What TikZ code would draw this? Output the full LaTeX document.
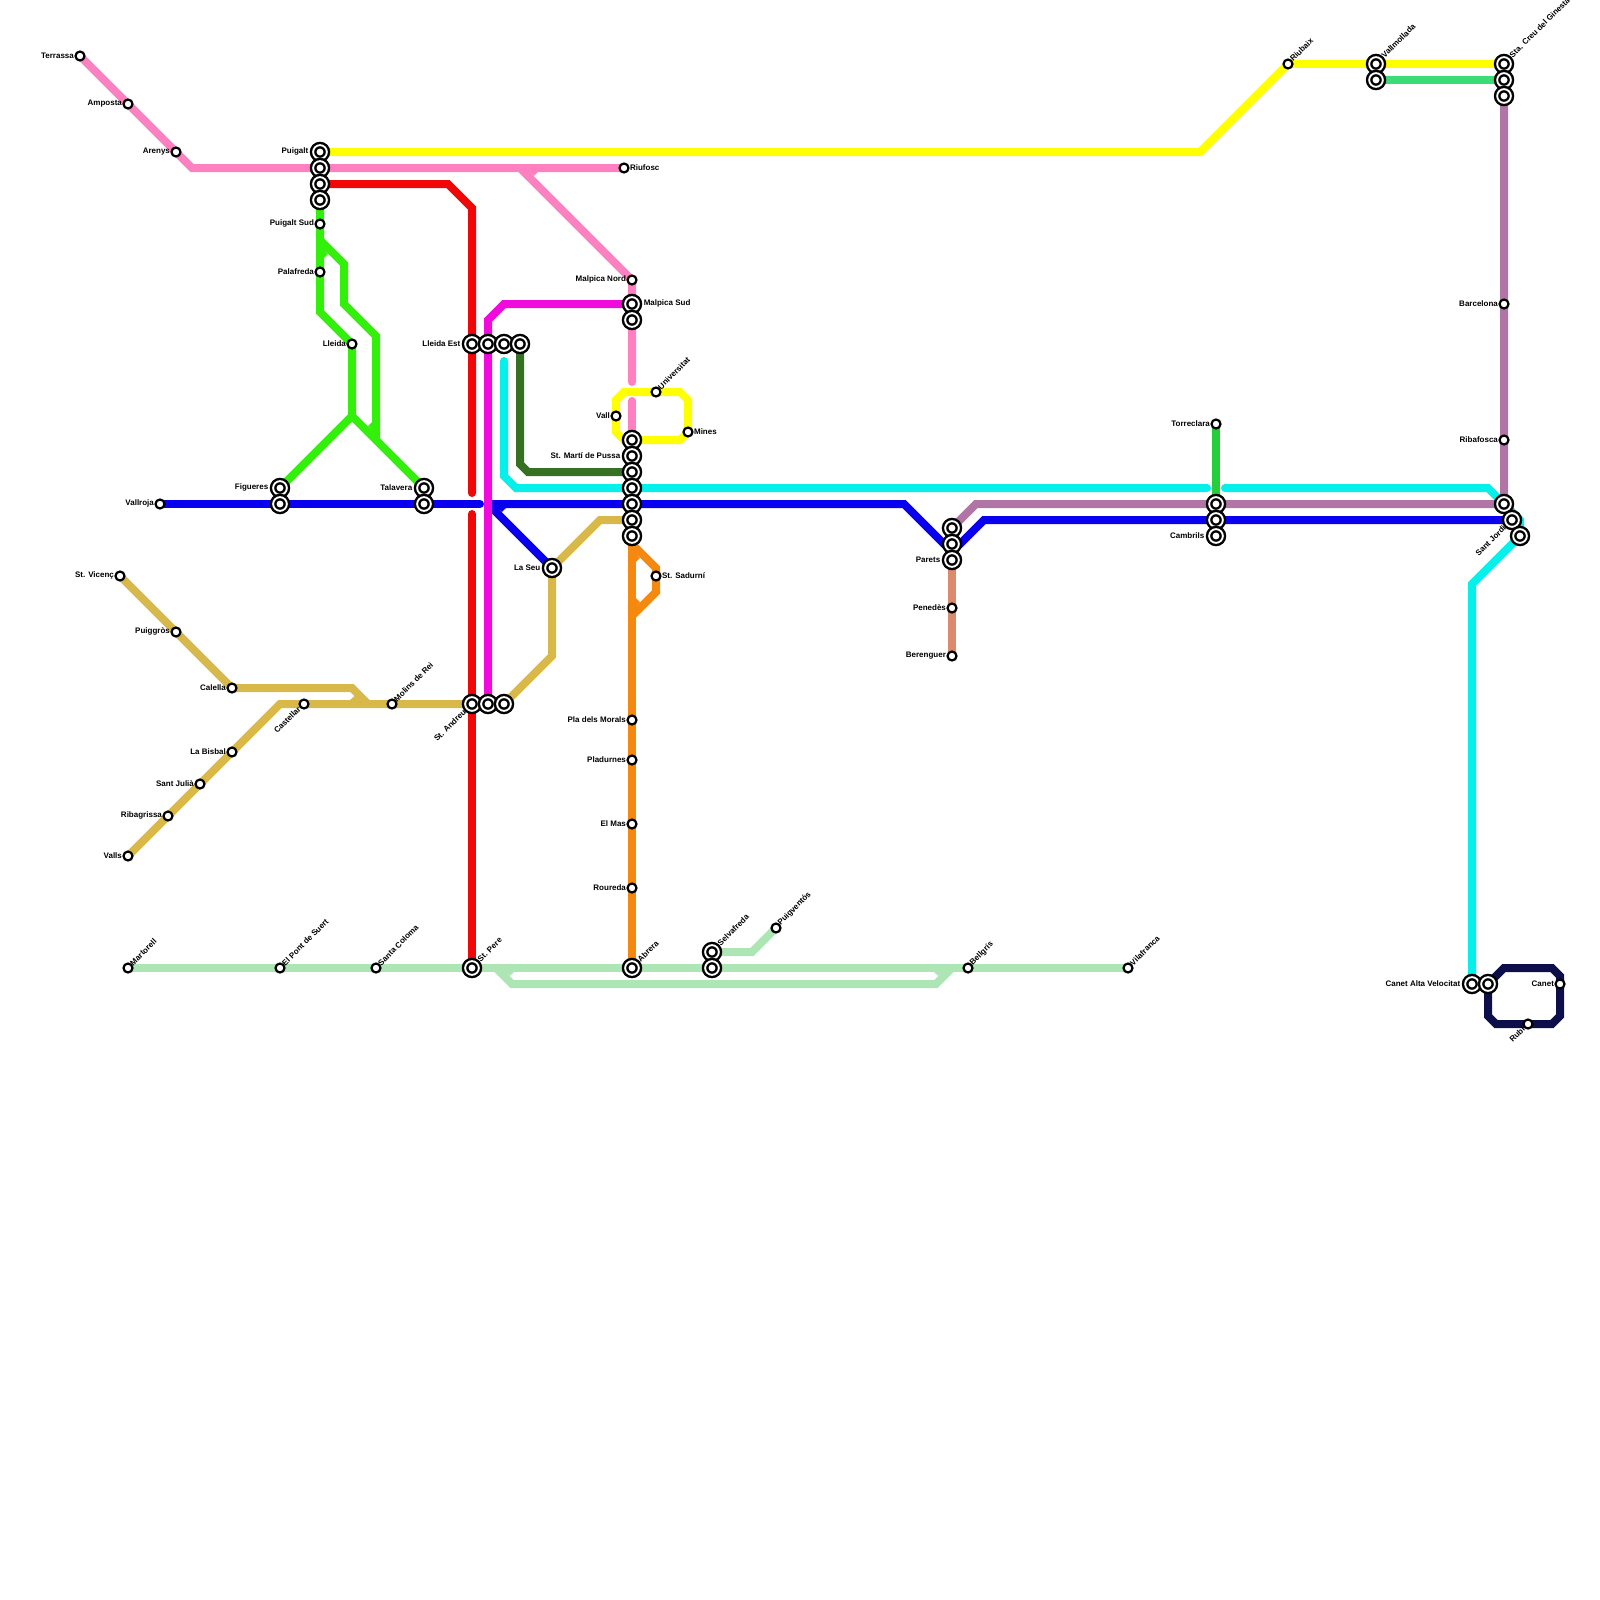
\documentclass[tikz,border=0pt]{standalone}
\usepackage{fontspec}
\setmainfont{Liberation Sans}
\usetikzlibrary{backgrounds}
\definecolor{pinkline}{HTML}{FF80C0}
\definecolor{yellowline}{HTML}{FFFF00}
\definecolor{redline}{HTML}{F00808}
\definecolor{limeline}{HTML}{33F00A}
\definecolor{blueline}{HTML}{0A00F0}
\definecolor{magentaline}{HTML}{F00ADC}
\definecolor{cyanline}{HTML}{05F0EB}
\definecolor{forestline}{HTML}{367023}
\definecolor{tanline}{HTML}{D9B84A}
\definecolor{orangeline}{HTML}{F5880E}
\definecolor{paleline}{HTML}{AEE5B4}
\definecolor{purpleline}{HTML}{B075A5}
\definecolor{salmonline}{HTML}{DC8A6E}
\definecolor{grassline}{HTML}{26CF3A}
\definecolor{mintline}{HTML}{3BDB75}
\definecolor{navyline}{HTML}{0D0F4B}
\newcommand{\lblfont}{\fontsize{8}{10}\selectfont\bfseries}

\begin{document}
\begin{tikzpicture}[
  x=1pt,y=-1pt,
  every label/.style={font=\lblfont,inner sep=1.4pt,yshift=0.7pt},
  stop/.style={circle,draw=black,fill=white,line width=2.2pt,minimum size=9pt,inner sep=0pt,outer sep=0pt},
  hub/.style={circle,draw=black,double=white,double distance=1.9pt,fill=white,line width=2.4pt,minimum size=13.7pt,inner sep=0pt,outer sep=0pt},
  metro/.style={line width=8pt,line join=miter},
  far/.style={inner sep=4.7pt},
  up/.style={rotate=45,anchor=west,inner sep=2.7pt},
  upnear/.style={rotate=45,anchor=west,inner sep=0pt},
  down/.style={rotate=45,anchor=east,inner sep=2pt},
  downfar/.style={rotate=45,anchor=east,inner sep=3.6pt},
]
\useasboundingbox (0,0) rectangle (1600,1600);

% west side
\node[stop,label=left:Terrassa] (terrassa) at (80,56) {};
\node[stop,label=left:Amposta] (amposta) at (128,104) {};
\node[stop,label=left:Arenys] (arenys) at (176,152) {};
\node[stop,label=right:Riufosc] (riufosc) at (624,168) {};
\node[hub,label={[far]left:Puigalt}] (puigalt) at (320,152) {};
\node[hub] (puigaltB) at (320,168) {};
\node[hub] (puigaltC) at (320,184) {};
\node[hub] (puigaltD) at (320,200) {};
\node[stop,label=left:Puigalt Sud] (puigaltsud) at (320,224) {};
\node[stop,label=left:Palafreda] (palafreda) at (320,272) {};
\node[stop,label=left:Lleida] (lleida) at (352,344) {};
\node[hub,label={[far]left:Figueres}] (figueres) at (280,488) {};
\node[hub] (figueresB) at (280,504) {};
\node[hub,label={[far]left:Talavera}] (talavera) at (424,488) {};
\node[hub] (talaveraB) at (424,504) {};
\node[stop,label=left:Vallroja] (vallroja) at (160,504) {};
\node[stop,label=left:St. Vicenç] (vicenc) at (120,576) {};
\node[stop,label=left:Puiggròs] (puiggros) at (176,632) {};
\node[stop,label=left:Calella] (calella) at (232,688) {};
\node[stop,label={[down]225:Castellar}] (castellar) at (304,704) {};
\node[stop,label={[upnear]45:Molins de Rei}] (molins) at (392,704) {};
\node[stop,label=left:La Bisbal] (bisbal) at (232,752) {};
\node[stop,label=left:Sant Julià] (julia) at (200,784) {};
\node[stop,label=left:Ribagrissa] (ribagrissa) at (168,816) {};
\node[stop,label=left:Valls] (valls) at (128,856) {};

% centre
\node[hub,label={[far]left:Lleida Est}] (lleidaest) at (472,344) {};
\node[hub] (lleidaestB) at (488,344) {};
\node[hub] (lleidaestC) at (504,344) {};
\node[hub] (lleidaestD) at (520,344) {};
\node[hub,label={[downfar]225:St. Andreu}] (andreu) at (472,704) {};
\node[hub] (andreuB) at (488,704) {};
\node[hub] (andreuC) at (504,704) {};
\node[hub,label={[far]left:La Seu}] (seu) at (552,568) {};
\node[stop,label=left:Malpica Nord] (malpicanord) at (632,280) {};
\node[hub,label={[far]right:Malpica Sud}] (malpicasud) at (632,304) {};
\node[hub] (malpicasudB) at (632,320) {};
\node[stop,label={[upnear]45:Universitat}] (universitat) at (656,392) {};
\node[stop,label=left:Vall] (vall) at (616,416) {};
\node[stop,label=right:Mines] (mines) at (688,432) {};
\node[hub] (pussaA) at (632,440) {};
\node[hub,label={[far]left:St. Martí de Pussa}] (pussa) at (632,456) {};
\node[hub] (pussaC) at (632,472) {};
\node[hub] (pussaD) at (632,488) {};
\node[hub] (pussaE) at (632,504) {};
\node[hub] (pussaF) at (632,520) {};
\node[hub] (pussaG) at (632,536) {};
\node[stop,label=right:St. Sadurní] (sadurni) at (656,576) {};
\node[stop,label=left:Pla dels Morals] (morals) at (632,720) {};
\node[stop,label=left:Pladurnes] (pladurnes) at (632,760) {};
\node[stop,label=left:El Mas] (elmas) at (632,824) {};
\node[stop,label=left:Roureda] (roureda) at (632,888) {};

% south row
\node[stop,label={[upnear]45:Martorell}] (martorell) at (128,968) {};
\node[stop,label={[upnear]45:El Pont de Suert}] (suert) at (280,968) {};
\node[stop,label={[upnear]45:Santa Coloma}] (coloma) at (376,968) {};
\node[hub,label={[up]45:St. Pere}] (stpere) at (472,968) {};
\node[hub,label={[up]45:Abrera}] (abrera) at (632,968) {};
\node[hub,label={[up]45:Selvafreda}] (selvafreda) at (712,952) {};
\node[hub] (selvafredaB) at (712,968) {};
\node[stop,label={[upnear]45:Puigventós}] (puigventos) at (776,928) {};
\node[stop,label={[upnear]45:Bellgrís}] (bellgris) at (968,968) {};
\node[stop,label={[upnear]45:Vilafranca}] (vilafranca) at (1128,968) {};

% east side
\node[hub] (paretsA) at (952,528) {};
\node[hub] (paretsB) at (952,544) {};
\node[hub,label={[far]left:Parets}] (parets) at (952,560) {};
\node[stop,label=left:Penedès] (penedes) at (952,608) {};
\node[stop,label=left:Berenguer] (berenguer) at (952,656) {};
\node[stop,label=left:Torreclara] (torreclara) at (1216,424) {};
\node[hub] (cambrilsA) at (1216,504) {};
\node[hub] (cambrilsB) at (1216,520) {};
\node[hub,label={[far]left:Cambrils}] (cambrils) at (1216,536) {};
\node[stop,label={[upnear]45:Riubaix}] (riubaix) at (1288,64) {};
\node[hub,label={[up]45:Vallmollada}] (vallmollada) at (1376,64) {};
\node[hub] (vallmolladaB) at (1376,80) {};
\node[hub,label={[up]45:Sta. Creu del Ginestà}] (creu) at (1504,64) {};
\node[hub] (creuB) at (1504,80) {};
\node[hub] (creuC) at (1504,96) {};
\node[stop,label=left:Barcelona] (barcelona) at (1504,304) {};
\node[stop,label=left:Ribafosca] (ribafosca) at (1504,440) {};
\node[hub] (jordiA) at (1504,504) {};
\node[hub,label={[downfar]225:Sant Jordi}] (jordi) at (1512,520) {};
\node[hub] (jordiC) at (1520,536) {};
\node[hub,label={[far]left:Canet Alta Velocitat}] (canetav) at (1472,984) {};
\node[hub] (canetavB) at (1488,984) {};
\node[stop,label=left:Canet] (canet) at (1560,984) {};
\node[stop,label={[down]225:Rubí}] (rubi) at (1528,1024) {};

% free ends at the bridges
\coordinate (redN) at (472,493);
\coordinate (redS) at (472,514);
\coordinate (blueW) at (480,504);
\coordinate (pinkN) at (632,382);
\coordinate (pinkS) at (632,401);
\coordinate (cyanN) at (504,361);
\coordinate (cyanW) at (1207,488);
\coordinate (cyanE) at (1225,488);
\coordinate (magentaEnd) at (504,353);

\begin{scope}[on background layer]
\draw[metro,magentaline] (lleidaestC.center) -- (magentaEnd);
\draw[metro,pinkline] (terrassa.center) -- (192,168) -- (riufosc.center);
\draw[metro,pinkline,line cap=round] (520,168) -- (malpicanord.center) -- (malpicasudB.center) -- (pinkN);
\draw[metro,pinkline,line cap=round] (pinkS) -- (pussaA.center);
\fill[pinkline] (529.7,172) -- (538,172) -- (533.8,176) -- cycle;
\draw[metro,yellowline] (puigalt.center) -- (1200,152) -- (riubaix.center) -- (creu.center);
\draw[metro,mintline] (vallmolladaB.center) -- (creuB.center);
\draw[metro,yellowline] (pussaA.center) -- (624,440) -- (616,432) -- (616,400) -- (624,392) -- (680,392) -- (688,400) -- (688,432) -- (680,440) -- cycle;
\draw[metro,redline,line cap=round] (puigaltC.center) -- (448,184) -- (472,208) -- (redN);
\draw[metro,redline,line cap=round] (redS) -- (stpere.center);
\draw[metro,limeline] (puigaltD.center) -- (320,312) -- (lleida.center) -- (352,416) -- (figueres.center);
\draw[metro,limeline] (352,416) -- (talavera.center);
\draw[metro,limeline] (320,240) -- (344,264) -- (344,304) -- (376,336) -- (376,440);
\fill[limeline] (324,249.7) -- (324,258) -- (328,253.8) -- cycle;
\fill[limeline] (372,430.3) -- (372,422) -- (368,426.2) -- cycle;
\draw[metro,blueline,line cap=round] (vallroja.center) -- (blueW);
\draw[metro,blueline] (seu.center) -- (496,512) -- (496,504) -- (904,504) -- (944,544) -- (960,544) -- (984,520) -- (jordi.center);
\fill[blueline] (497.7,508) -- (506,508) -- (501.8,512) -- cycle;
\draw[metro,tanline] (pussaF.center) -- (600,520) -- (seu.center) -- (552,656) -- (andreuC.center) -- (280,704) -- (valls.center);
\draw[metro,tanline] (vicenc.center) -- (calella.center) -- (352,688) -- (368,704);
\fill[tanline] (350.2,700) -- (358.4,700) -- (354.3,696) -- cycle;
\draw[metro,cyanline,line cap=round] (cyanN) -- (504,476) -- (516,488) -- (cyanW);
\draw[metro,cyanline,line cap=round] (cyanE) -- (1488,488) -- (1520,520) -- (jordiC.center) -- (1472,584) -- (canetav.center);
\draw[metro,magentaline] (andreuB.center) -- (488,320) -- (504,304) -- (malpicasud.center);
\draw[metro,forestline] (lleidaestD.center) -- (520,464) -- (528,472) -- (pussaC.center);
\draw[metro,orangeline] (pussaG.center) -- (abrera.center);
\draw[metro,orangeline] (632,544) -- (656,568) -- (656,592) -- (632,616);
\fill[orangeline] (636,553.7) -- (636,562) -- (640,557.8) -- cycle;
\fill[orangeline] (636,606.3) -- (636,598) -- (640,602.2) -- cycle;
\draw[metro,paleline] (martorell.center) -- (vilafranca.center);
\draw[metro,paleline] (496,968) -- (512,984) -- (936,984) -- (952,968);
\fill[paleline] (505.7,972) -- (514,972) -- (509.8,976) -- cycle;
\fill[paleline] (942.3,972) -- (934,972) -- (938.2,976) -- cycle;
\draw[metro,paleline] (selvafreda.center) -- (752,952) -- (puigventos.center);
\draw[metro,purpleline] (creuC.center) -- (jordiA.center) -- (976,504) -- (paretsA.center);
\draw[metro,purpleline] (jordiA.center) -- (1512,512);
\draw[metro,salmonline] (parets.center) -- (berenguer.center);
\draw[metro,grassline] (torreclara.center) -- (cambrilsA.center);
\draw[metro,navyline] (canetavB.center) -- (1504,968) -- (1552,968) -- (1560,976) -- (1560,1016) -- (1552,1024) -- (1496,1024) -- (1488,1016) -- cycle;
\end{scope}
\end{tikzpicture}
\end{document}
